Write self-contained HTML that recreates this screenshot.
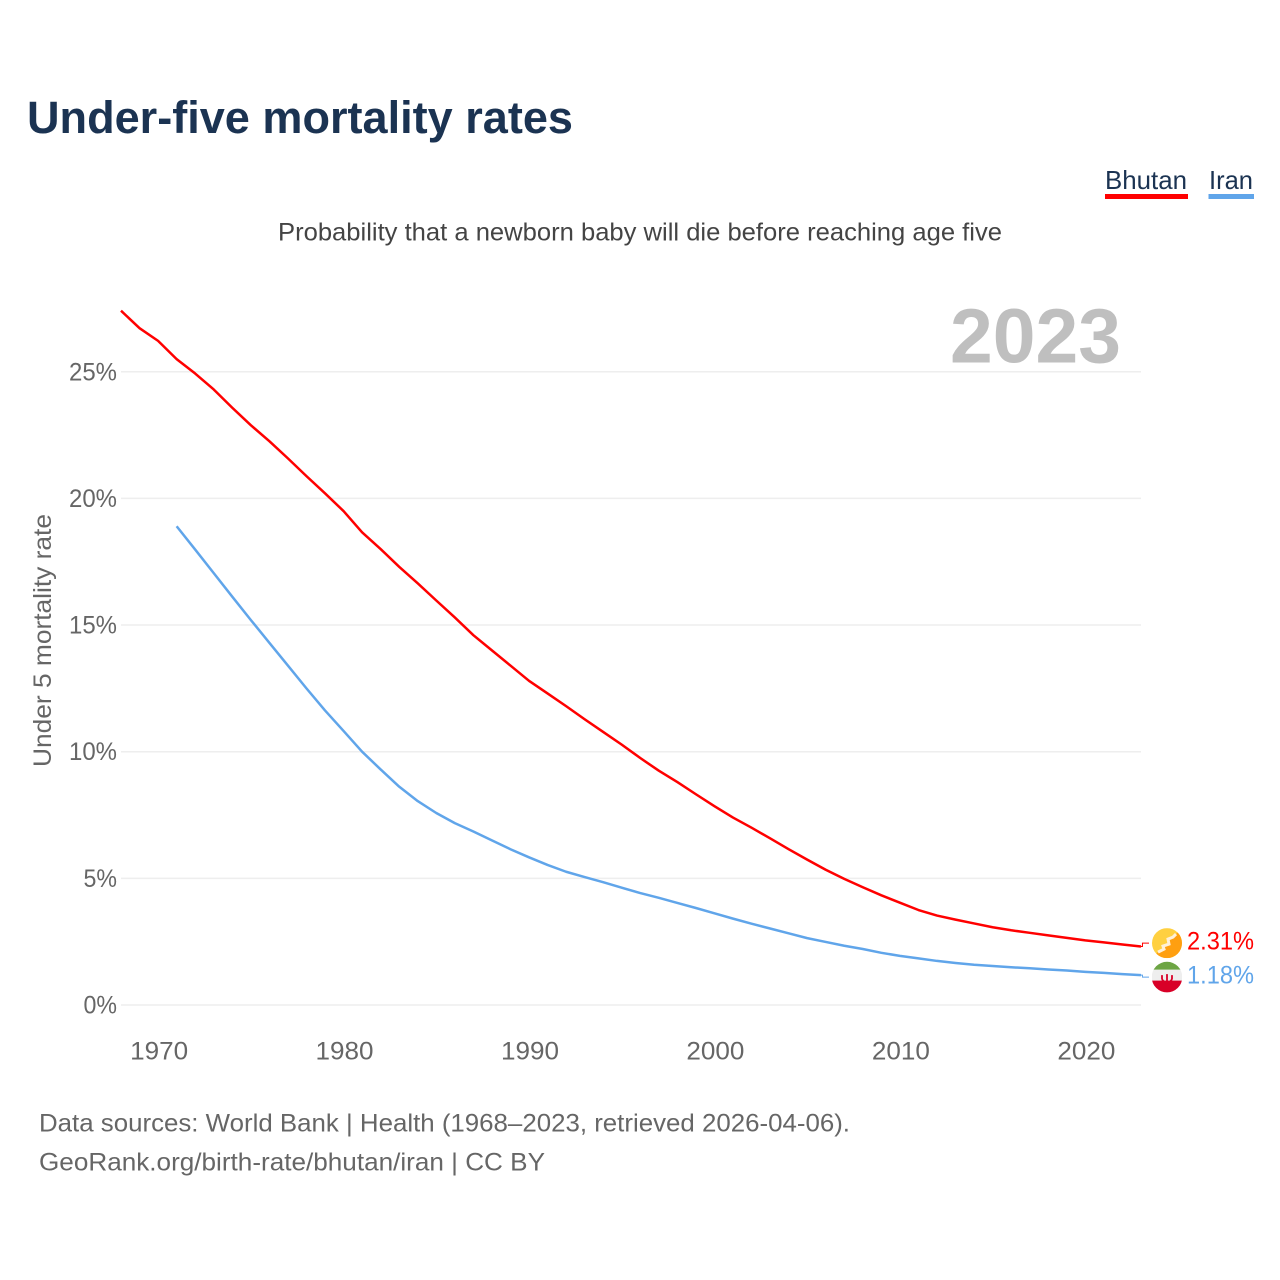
<!DOCTYPE html>
<html lang="en">
<head>
<meta charset="utf-8">
<title>Under-five mortality rates</title>
<style>
html,body{margin:0;padding:0;background:#fff;width:1280px;height:1280px;overflow:hidden}
svg{display:block}
text{font-family:"Liberation Sans",sans-serif}
</style>
</head>
<body>
<svg id="chart" xmlns="http://www.w3.org/2000/svg" width="1280" height="1280" viewBox="0 0 1280 1280">
  <defs>
    <clipPath id="clip-bhutan"><circle cx="15" cy="15" r="15"/></clipPath>
    <clipPath id="clip-iran"><circle cx="15" cy="15" r="15.3"/></clipPath>
  </defs>
  <rect width="1280" height="1280" fill="#fff"/>
  <text x="27" y="133" font-size="45" font-weight="700" fill="#1b3352" textLength="546" lengthAdjust="spacingAndGlyphs">Under-five mortality rates</text>
  <g>
    <text x="1105" y="189" font-size="26" fill="#1b3352" textLength="82" lengthAdjust="spacingAndGlyphs">Bhutan</text>
    <rect x="1105" y="194" width="83" height="5" fill="#ff0000"/>
  </g>
  <g>
    <text x="1209" y="189" font-size="26" fill="#1b3352" textLength="44" lengthAdjust="spacingAndGlyphs">Iran</text>
    <rect x="1208.5" y="194" width="45.5" height="5" fill="#60a5ea"/>
  </g>
  <text x="278" y="240.5" font-size="25" fill="#444" textLength="724" lengthAdjust="spacingAndGlyphs">Probability that a newborn baby will die before reaching age five</text>
  <g id="grid"></g>
  <g id="yticks"></g>
  <g id="xticks"></g>
  <text transform="translate(51 767) rotate(-90)" font-size="25" fill="#666" textLength="253" lengthAdjust="spacingAndGlyphs">Under 5 mortality rate</text>
  <text x="950" y="362.5" font-size="77" font-weight="700" fill="#bfbfbf" textLength="171" lengthAdjust="spacingAndGlyphs">2023</text>
  <g id="series"></g>
  <g id="bhutan-flag">
    <g clip-path="url(#clip-bhutan)">
      <rect width="30" height="30" fill="#ffd040"/>
      <path d="M30 0V30H0Z" fill="#ff9f10"/>
      <path d="M6 24L12 21L11 18L17 16L16 11L21 9L24 6" fill="none" stroke="#fff0d8" stroke-width="3"/>
    </g>
  </g>
  <g id="iran-flag">
    <g clip-path="url(#clip-iran)">
      <rect y="-1" width="30" height="9" fill="#6da544"/>
      <rect y="7.5" width="30" height="11.5" fill="#eeeeee"/>
      <rect y="18.5" width="30" height="13" fill="#d80027"/>
      <path d="M10 13V16.5Q10.5 19.5 15 20.5Q19.5 19.5 20 16.5V13M15 12V20" fill="none" stroke="#d80027" stroke-width="1.8"/>
    </g>
  </g>
  <g id="end-labels"></g>
  <text x="39" y="1131.5" font-size="25" fill="#666" textLength="811" lengthAdjust="spacingAndGlyphs">Data sources: World Bank | Health (1968–2023, retrieved 2026-04-06).</text>
  <text x="39" y="1170.5" font-size="25" fill="#666" textLength="506" lengthAdjust="spacingAndGlyphs">GeoRank.org/birth-rate/bhutan/iran | CC BY</text>
</svg>
<script>
const bhutanStartYear = 1968;
const bhutanValues = [27.41,26.72,26.22,25.5,24.93,24.3,23.58,22.89,22.26,21.58,20.88,20.2,19.5,18.66,18.0,17.3,16.65,15.97,15.3,14.6,14.0,13.4,12.8,12.3,11.8,11.28,10.78,10.28,9.75,9.25,8.8,8.32,7.85,7.4,7.0,6.58,6.15,5.74,5.34,4.98,4.65,4.33,4.04,3.75,3.53,3.37,3.22,3.07,2.95,2.85,2.75,2.65,2.55,2.47,2.39,2.31];
const iranStartYear = 1971;
const iranValues = [18.9,17.98,17.05,16.12,15.2,14.3,13.4,12.5,11.63,10.82,10.0,9.3,8.62,8.05,7.58,7.18,6.85,6.5,6.15,5.83,5.53,5.26,5.05,4.85,4.63,4.42,4.23,4.03,3.83,3.62,3.41,3.21,3.02,2.83,2.64,2.49,2.34,2.21,2.06,1.94,1.84,1.74,1.66,1.59,1.54,1.49,1.45,1.4,1.36,1.31,1.27,1.22,1.18];
const yTickValues = [0,5,10,15,20,25];
const xTickYears = [1970,1980,1990,2000,2010,2020];

const NS = 'http://www.w3.org/2000/svg';
const xScale = year => 121 + (year - 1968) * 18.545;
const yScale = value => 1005 - value * 25.33;

function make(tag, attrs, parent, content) {
  const el = document.createElementNS(NS, tag);
  for (const k in attrs) el.setAttribute(k, attrs[k]);
  if (content !== undefined) el.textContent = content;
  parent.appendChild(el);
  return el;
}
function labelWidth(str) {
  let w = 0;
  for (const c of str) w += c === '%' ? 19 : c === '.' ? 5.5 : 14.5;
  return w;
}

const gridLayer = document.getElementById('grid');
const yLayer = document.getElementById('yticks');
yTickValues.forEach(v => {
  const line = make('line', {x1: 121, x2: 1141, y1: yScale(v), y2: yScale(v), stroke: '#eeeeee', 'stroke-width': 1.5}, gridLayer);
  
  
  const s = v + '%';
  const label = make('text', {x: 117, y: yScale(v) + 8.5, 'text-anchor': 'end', 'font-size': 25, fill: '#666', textLength: labelWidth(s), lengthAdjust: 'spacingAndGlyphs'}, yLayer, s);
  
  
});

const xLayer = document.getElementById('xticks');
xTickYears.forEach(y => {
  const s = String(y);
  const label = make('text', {x: xScale(y) + 1, y: 1059.5, 'text-anchor': 'middle', 'font-size': 25, fill: '#666', textLength: labelWidth(s), lengthAdjust: 'spacingAndGlyphs'}, xLayer, s);
  
  
});

function linePath(values, startYear) {
  return values.map((v, i) => (i ? 'L' : 'M') + xScale(startYear + i).toFixed(2) + ' ' + yScale(v).toFixed(2)).join('');
}
const seriesLayer = document.getElementById('series');
const bhutanLine = make('path', {d: linePath(bhutanValues, bhutanStartYear), fill: 'none', stroke: '#ff0000', 'stroke-width': 2.5, 'stroke-linejoin': 'round'}, seriesLayer);


const iranLine = make('path', {d: linePath(iranValues, iranStartYear), fill: 'none', stroke: '#60a5ea', 'stroke-width': 2.5, 'stroke-linejoin': 'round'}, seriesLayer);



// End labels are pushed apart around their midpoint so the flags do not collide.
const bhutanLast = bhutanValues[bhutanValues.length - 1];
const iranLast = iranValues[iranValues.length - 1];
const bhutanEndY = yScale(bhutanLast);
const iranEndY = yScale(iranLast);
const gap = 17;
let bhutanLabelY = bhutanEndY;
let iranLabelY = iranEndY;
if (iranEndY - bhutanEndY < gap * 2) {
  const mid = (bhutanEndY + iranEndY) / 2 - 0.7;
  bhutanLabelY = mid - gap;
  iranLabelY = mid + gap;
}
const endX = xScale(2023);
const endLayer = document.getElementById('end-labels');

const bhutanConnector = make('path', {d: `M${endX} ${bhutanEndY}L${endX + 1.5} ${bhutanEndY}V${bhutanLabelY}H1149`, fill: 'none', stroke: '#ff0000', 'stroke-width': 1}, endLayer);


const iranConnector = make('path', {d: `M${endX} ${iranEndY}L${endX + 1.5} ${iranEndY}V${iranLabelY}H1149`, fill: 'none', stroke: '#60a5ea', 'stroke-width': 1}, endLayer);



document.getElementById('bhutan-flag').setAttribute('transform', `translate(1152 ${bhutanLabelY - 15})`);
document.getElementById('iran-flag').setAttribute('transform', `translate(1152 ${iranLabelY - 15})`);

const bhutanText = bhutanLast.toFixed(2) + '%';
const bhutanLabel = make('text', {x: 1254, y: bhutanLabelY + 6.5, 'text-anchor': 'end', 'font-size': 25, fill: '#ff0000', textLength: labelWidth(bhutanText) - 1, lengthAdjust: 'spacingAndGlyphs'}, endLayer, bhutanText);


const iranText = iranLast.toFixed(2) + '%';
const iranLabel = make('text', {x: 1254, y: iranLabelY + 6.5, 'text-anchor': 'end', 'font-size': 25, fill: '#60a5ea', textLength: labelWidth(iranText) - 1, lengthAdjust: 'spacingAndGlyphs'}, endLayer, iranText);


</script>
</body>
</html>
